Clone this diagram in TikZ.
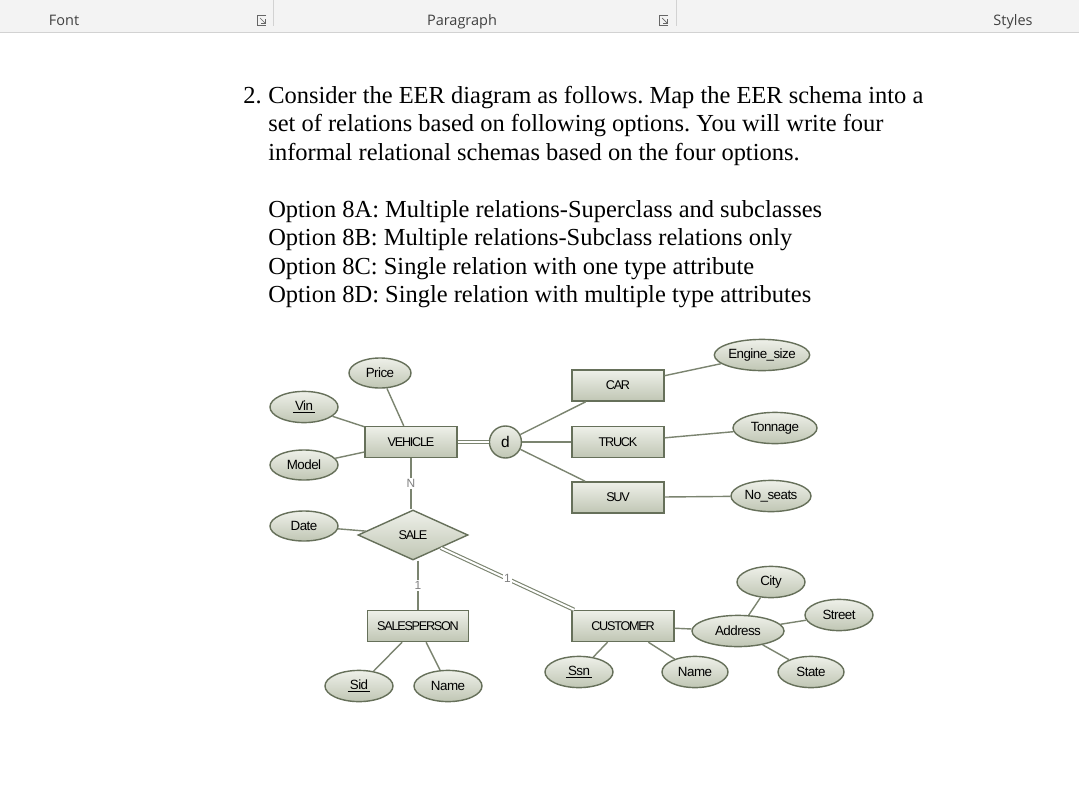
\documentclass[tikz,border=0pt]{standalone}
\usepackage{fontspec}
\setmainfont{Liberation Serif}
\newfontfamily\erfont[LetterSpace=-4]{Liberation Sans}
\newfontfamily\entfont[LetterSpace=-10]{Liberation Sans}
\newfontfamily\uifont{Open Sans}
\usetikzlibrary{positioning,shapes.geometric}
\definecolor{erline}{HTML}{7B8470}
\definecolor{erborder}{HTML}{66705A}
\definecolor{ertop}{HTML}{EEF0E9}
\definecolor{erbot}{HTML}{C0C6B4}
\definecolor{ribbon}{HTML}{F3F3F3}
\definecolor{ribbonline}{HTML}{D2D2D2}
\definecolor{ribbontext}{HTML}{404040}
\newcommand{\erfs}{\erfont\fontsize{9.5}{10}\selectfont}
\newcommand{\entfs}{\entfont\fontsize{9}{10}\selectfont}
\newcommand{\keyattr}[1]{\underline{\,#1\,}}

\begin{document}
\frenchspacing
\begin{tikzpicture}[
      x=0.025cm, y=-0.025cm,
      entity/.style={draw=erborder, line width=1pt, top color=ertop, bottom color=erbot,
                     minimum width=2.3cm, minimum height=0.775cm, inner sep=0pt, font=\entfs},
      attr/.style={ellipse, draw=erborder, line width=1pt, top color=ertop, bottom color=erbot,
                   minimum width=1.7cm, minimum height=0.78cm, inner sep=0pt, font=\erfs},
      rel/.style={diamond, draw=erborder, line width=1pt, top color=ertop, bottom color=erbot,
                  minimum width=2.75cm, minimum height=1.25cm, inner sep=0pt, font=\entfs},
      disj/.style={circle, draw=erborder, line width=1pt, top color=ertop, bottom color=erbot,
                   minimum size=0.8cm, inner sep=0pt, font=\erfont\fontsize{11}{12}\selectfont},
      link/.style={draw=erline, line width=1pt},
      dlink/.style={draw=erline, line width=0.8pt, double=white, double distance=1.4pt},
      card/.style={fill=white, inner sep=1pt, text=gray, font=\erfont\fontsize{8.5}{9}\selectfont},
      qtext/.style={inner sep=0pt, font=\fontsize{17.4}{20.2}\selectfont},
      tab/.style={font=\uifont\fontsize{10.3}{12}\selectfont, text=ribbontext, anchor=base}
    ]
    \useasboundingbox (0,0) rectangle (1079,803);
    \fill[white] (0,0) rectangle (1079,803);

    % ribbon
    \fill[ribbon] (0,0) rectangle (1079,32);
    \draw[ribbonline] (0,32.5) -- (1079,32.5);
    \draw[ribbonline] (273.5,0) -- (273.5,26);
    \draw[ribbonline] (676,0) -- (676,26);
    \node[tab] (font)  at (64,25)   {Font};
    \node[tab] (para)  at (462,25)  {Paragraph};
    \node[tab] (style) at (1013,25) {Styles};
    \foreach \lx in {257,659} {
      \draw[ribbontext!80, line width=0.5pt] (\lx+9,15) -- (\lx,15) -- (\lx,25) -- (\lx+9,25);
      \draw[ribbontext!80, line width=0.5pt] (\lx+3,18) -- (\lx+8,23);
      \draw[ribbontext!80, line width=0.5pt] (\lx+4,23) -- (\lx+8,23) -- (\lx+8,19);
    }

    % question
    \node[qtext, anchor=base west] (num) at (243,103) {2.};
    \node[qtext, anchor=north west, align=left] (question) at (268,86)
      {Consider the EER diagram as follows. Map the EER schema into a\\
       set of relations based on following options. You will write four\\
       informal relational schemas based on the four options.};
    \node[qtext, anchor=north west, align=left] (options) at (268,200)
      {Option 8A: Multiple relations-Superclass and subclasses\\
       Option 8B: Multiple relations-Subclass relations only\\
       Option 8C: Single relation with one type attribute\\
       Option 8D: Single relation with multiple type attributes};

    % entities
    \node[entity] (vehicle) at (411,442) {VEHICLE};
    \node[disj, right=0.775cm of vehicle] (d) {d};
    \node[entity] (truck) at (618,442) {TRUCK};
    \node[entity, above=0.6cm of truck] (car) {CAR};
    \node[entity, below=0.575cm of truck] (suv) {SUV};
    \node[rel] (sale) at (413,535) {SALE};
    \node[entity, minimum width=2.525cm] (salesperson) at (418,626) {SALESPERSON};
    \node[entity, minimum width=2.55cm] (customer) at (623,626) {CUSTOMER};

    % attributes
    \node[attr, minimum width=1.55cm, minimum height=0.75cm] (price) at (380,373) {Price};
    \node[attr] (vin)   at (304,407) {\keyattr{Vin}};
    \node[attr, minimum height=0.75cm] (model) at (304,465) {Model};
    \node[attr, minimum height=0.75cm] (date)  at (304,526) {Date};
    \node[attr, minimum width=2.15cm] (engine)  at (762,355) {Engine\_size};
    \node[attr, minimum width=2.1cm]  (tonnage) at (775,428) {Tonnage};
    \node[attr, minimum width=2cm]    (seats)   at (771,496) {No\_seats};
    \node[attr] (sid)    at (359,686) {\keyattr{Sid}};
    \node[attr] (sname)  at (448,686) {Name};
    \node[attr] (ssn)    at (579,672) {\keyattr{Ssn}};
    \node[attr, minimum width=1.65cm] (cname) at (695,672) {Name};
    \node[attr, minimum width=2.3cm]  (address) at (738,631) {Address};
    \node[attr] (city)   at (771,582) {City};
    \node[attr] (street) at (839,615) {Street};
    \node[attr, minimum width=1.65cm] (state) at (811,672) {State};

    % vehicle and its subclasses
    \draw[link] (vin) -- (vehicle);
    \draw[link] (model) -- (vehicle);
    \draw[link] (price) -- (vehicle);
    \draw[dlink] (vehicle) -- (d);
    \draw[link] (d) -- (car);
    \draw[link] (d) -- (truck);
    \draw[link] (d) -- (suv);
    \draw[link] (car) -- (engine);
    \draw[link] (truck) -- (tonnage);
    \draw[link] (suv) -- (seats);

    % the sale relationship
    \draw[link] (vehicle.south) -- (vehicle.south |- sale.north) node[midway, card] {N};
    \draw[link] (date) -- (sale);
    \draw[link] (sale.south -| salesperson.north) -- (salesperson.north) node[midway, card] {1};
    \draw[dlink] (sale) -- ([xshift=2pt]customer.north west) node[midway, card] {1};

    % salesperson and customer attributes
    \draw[link] (salesperson) -- (sid);
    \draw[link] (salesperson) -- (sname);
    \draw[link] (customer) -- (ssn);
    \draw[link] (customer) -- (cname);
    \draw[link] (customer) -- (address);
    \draw[link] (address) -- (city);
    \draw[link] (address) -- (street);
    \draw[link] (address) -- (state);
  \end{tikzpicture}
\end{document}
